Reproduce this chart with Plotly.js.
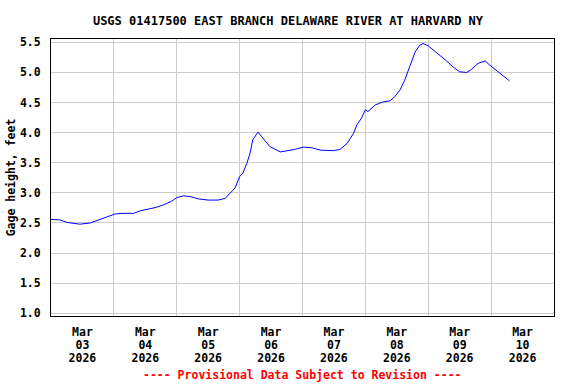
<!DOCTYPE html>
<html>
<head>
<meta charset="utf-8">
<script src="https://cdn.plot.ly/plotly-3.0.1.min.js"></script>
<style>html,body{margin:0;padding:0;background:#fff;}#chart{width:576px;height:384px;}</style>
</head>
<body>
<div id="chart"></div>
<script>
var times = [
  "2026-03-03 00:00","2026-03-03 03:30","2026-03-03 06:00","2026-03-03 08:30","2026-03-03 11:00",
  "2026-03-03 15:00","2026-03-03 17:30","2026-03-03 21:15","2026-03-04 00:30","2026-03-04 03:30",
  "2026-03-04 07:30","2026-03-04 10:00","2026-03-04 13:45","2026-03-04 16:15","2026-03-04 19:30",
  "2026-03-04 22:00","2026-03-05 00:00","2026-03-05 02:30","2026-03-05 05:00","2026-03-05 08:15",
  "2026-03-05 12:00","2026-03-05 15:45","2026-03-05 18:30","2026-03-05 20:15","2026-03-05 22:15",
  "2026-03-06 00:00","2026-03-06 01:15","2026-03-06 02:45","2026-03-06 04:00","2026-03-06 05:00",
  "2026-03-06 07:00","2026-03-06 08:30","2026-03-06 11:30","2026-03-06 15:30","2026-03-06 18:00",
  "2026-03-06 21:00","2026-03-07 00:15","2026-03-07 03:30","2026-03-07 06:45","2026-03-07 11:45",
  "2026-03-07 14:15","2026-03-07 17:00","2026-03-07 19:30","2026-03-07 20:45","2026-03-07 22:30",
  "2026-03-08 00:00","2026-03-08 01:00","2026-03-08 03:45","2026-03-08 06:45","2026-03-08 09:30",
  "2026-03-08 11:15","2026-03-08 13:15","2026-03-08 15:00","2026-03-08 17:00","2026-03-08 19:00",
  "2026-03-08 20:45","2026-03-08 22:00","2026-03-09 00:00","2026-03-09 02:00","2026-03-09 04:30",
  "2026-03-09 07:00","2026-03-09 09:30","2026-03-09 12:00","2026-03-09 14:45","2026-03-09 16:30",
  "2026-03-09 19:00","2026-03-09 21:45","2026-03-09 23:30","2026-03-10 02:00","2026-03-10 04:30",
  "2026-03-10 07:00"
];
var gageHeight = [
  2.56,2.55,2.51,2.49,2.48,
  2.50,2.54,2.59,2.65,2.66,
  2.66,2.70,2.73,2.76,2.81,
  2.86,2.92,2.95,2.94,2.90,
  2.88,2.88,2.91,2.99,3.08,
  3.27,3.33,3.49,3.66,3.88,
  4.01,3.93,3.77,3.68,3.70,
  3.72,3.76,3.75,3.71,3.70,
  3.72,3.82,3.99,4.13,4.24,
  4.38,4.35,4.46,4.51,4.53,
  4.60,4.71,4.87,5.09,5.34,
  5.45,5.48,5.44,5.37,5.29,
  5.19,5.09,5.01,5.00,5.05,
  5.15,5.19,5.12,5.03,4.94,
  4.86
];
var yTicks = [1.0,1.5,2.0,2.5,3.0,3.5,4.0,4.5,5.0,5.5];
var yTickText = ["1.0","1.5","2.0","2.5","3.0","3.5","4.0","4.5","5.0","5.5"];
var xRange = ["2026-03-03 00:00", "2026-03-11 00:00"];

var FONT = "'DejaVu Sans Mono', 'Liberation Mono', monospace";
var TF = {family: FONT, size: 11.5, color: "#000"};

var trace = {
  x: times, y: gageHeight, type: "scatter", mode: "lines",
  line: {color: "#0000ff", width: 1}, hoverinfo: "skip"
};
// invisible helper traces so the overlay axes (day, year label rows) are drawn
var helper2 = {x: [xRange[0]], y: [null], xaxis: "x2", yaxis: "y", type: "scatter", mode: "lines", showlegend: false, hoverinfo: "skip"};
var helper3 = {x: [xRange[0]], y: [null], xaxis: "x3", yaxis: "y", type: "scatter", mode: "lines", showlegend: false, hoverinfo: "skip"};

function dateAxis(fmt, len, main) {
  var a = {
    type: "date", range: xRange,
    dtick: 86400000, tick0: "2026-03-03",
    ticklabelmode: "period",
    tickformat: fmt,
    tickfont: TF,
    showgrid: !!main, gridcolor: "#cccccc", gridwidth: 1,
    showline: !!main, linecolor: "#000", linewidth: 1, mirror: !!main,
    ticks: "outside", ticklen: len, tickcolor: "rgba(0,0,0,0)",
    zeroline: false, fixedrange: true
  };
  if (!main) { a.overlaying = "x"; a.anchor = "y"; a.side = "bottom"; }
  return a;
}

var layout = {
  width: 576, height: 384,
  margin: {l: 51, r: 22, t: 39, b: 68},
  paper_bgcolor: "#ffffff", plot_bgcolor: "#ffffff",
  showlegend: false,
  title: {
    text: "<b>USGS 01417500 EAST BRANCH DELAWARE RIVER AT HARVARD NY</b>",
    font: {family: FONT, size: 12, color: "#000"},
    x: 0.5, xanchor: "center", y: 1, yref: "paper", yanchor: "bottom", pad: {b: 14}
  },
  xaxis: dateAxis("<b>%b</b>", 5, true),
  xaxis2: dateAxis("<b>%d</b>", 18, false),
  xaxis3: dateAxis("<b>%Y</b>", 31, false),
  yaxis: {
    range: [0.955, 5.555],
    tickvals: yTicks, ticktext: yTickText.map(function(t){return "<b>"+t+"</b>";}),
    tickfont: TF,
    showgrid: true, gridcolor: "#cccccc", gridwidth: 1,
    showline: true, linecolor: "#000", linewidth: 1, mirror: true,
    ticks: "outside", ticklen: 7, tickcolor: "rgba(0,0,0,0)",
    zeroline: false, fixedrange: true,
    title: {text: "<b>Gage height, feet</b>", font: TF, standoff: 1}
  },
  annotations: [{
    text: "<b>---- Provisional Data Subject to Revision ----</b>",
    xref: "paper", yref: "paper", x: 0.5, y: 0, yshift: -59,
    xanchor: "center", yanchor: "middle", showarrow: false,
    font: {family: FONT, size: 11.5, color: "#ff0000"}
  }]
};

Plotly.newPlot("chart", [trace, helper2, helper3], layout, {staticPlot: true, displayModeBar: false});
</script>
</body>
</html>
